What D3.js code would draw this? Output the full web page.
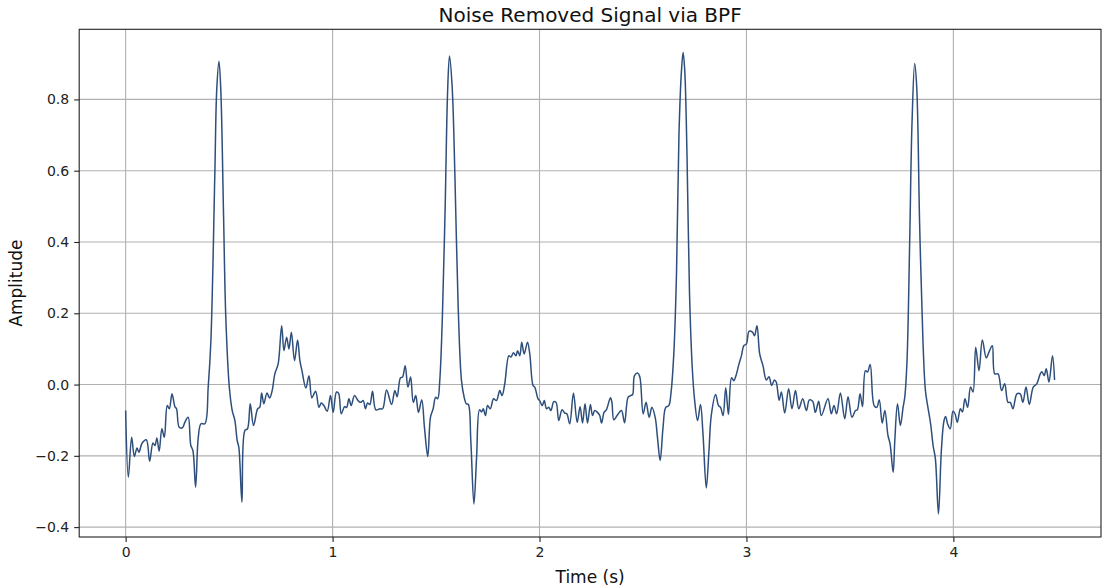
<!DOCTYPE html>
<html>
<head>
<meta charset="utf-8">
<script src="https://cdn.jsdelivr.net/npm/d3@7"></script>
<style>
	body { margin: 0; background: #fff; }
	svg { display: block; font-family: "DejaVu Sans", sans-serif; }
</style>
</head>
<body>
<div id="chart"></div>
<script>

// ---DATA---//

// time stamps (s)
var time = [
	0.000, 0.013, 0.029, 0.042, 0.055, 0.064, 0.080, 0.100, 0.116, 0.132,
	0.142, 0.151, 0.162, 0.175, 0.187, 0.201, 0.211, 0.224, 0.238, 0.246,
	0.259, 0.275, 0.286, 0.302, 0.315, 0.325, 0.338, 0.351, 0.364, 0.383,
	0.399, 0.412, 0.431, 0.440, 0.451, 0.460, 0.473, 0.484, 0.501, 0.515,
	0.528, 0.539, 0.547, 0.562, 0.576, 0.589, 0.602, 0.618, 0.638, 0.648,
	0.657, 0.668, 0.683, 0.696, 0.708, 0.721, 0.737, 0.754, 0.765, 0.778,
	0.789, 0.801, 0.816, 0.831, 0.842, 0.852, 0.871, 0.886, 0.900, 0.918,
	0.934, 0.945, 0.958, 0.974, 0.990, 1.003, 1.019, 1.029, 1.042, 1.058,
	1.068, 1.079, 1.090, 1.106, 1.123, 1.135, 1.148, 1.159, 1.169, 1.180,
	1.193, 1.209, 1.229, 1.242, 1.261, 1.285, 1.301, 1.312, 1.328, 1.338,
	1.351, 1.364, 1.377, 1.390, 1.402, 1.415, 1.431, 1.444, 1.460, 1.473,
	1.486, 1.498, 1.508, 1.518, 1.531, 1.544, 1.556, 1.565, 1.578, 1.591,
	1.607, 1.623, 1.636, 1.646, 1.656, 1.668, 1.683, 1.696, 1.710, 1.720,
	1.728, 1.739, 1.749, 1.762, 1.778, 1.792, 1.808, 1.819, 1.832, 1.852,
	1.862, 1.874, 1.886, 1.894, 1.905, 1.914, 1.926, 1.942, 1.953, 1.969,
	1.977, 1.993, 2.001, 2.013, 2.023, 2.034, 2.045, 2.055, 2.069, 2.080,
	2.093, 2.109, 2.122, 2.132, 2.146, 2.164, 2.182, 2.196, 2.208, 2.220,
	2.232, 2.246, 2.256, 2.267, 2.280, 2.291, 2.300, 2.312, 2.323, 2.343,
	2.350, 2.359, 2.375, 2.396, 2.411, 2.428, 2.440, 2.450, 2.459, 2.475,
	2.485, 2.501, 2.515, 2.530, 2.543, 2.559, 2.570, 2.583, 2.597, 2.610,
	2.625, 2.635, 2.649, 2.662, 2.674, 2.686, 2.694, 2.702, 2.713, 2.725,
	2.738, 2.749, 2.764, 2.778, 2.790, 2.806, 2.819, 2.830, 2.851, 2.865,
	2.875, 2.887, 2.900, 2.913, 2.928, 2.939, 2.952, 2.964, 2.976, 2.987,
	3.000, 3.013, 3.029, 3.039, 3.051, 3.064, 3.080, 3.096, 3.109, 3.122,
	3.135, 3.144, 3.158, 3.169, 3.185, 3.204, 3.220, 3.237, 3.253, 3.272,
	3.290, 3.304, 3.320, 3.333, 3.349, 3.362, 3.394, 3.410, 3.423, 3.436,
	3.454, 3.475, 3.491, 3.510, 3.527, 3.536, 3.549, 3.561, 3.575, 3.585,
	3.598, 3.617, 3.630, 3.642, 3.656, 3.669, 3.684, 3.694, 3.709, 3.717,
	3.730, 3.744, 3.757, 3.765, 3.776, 3.789, 3.800, 3.813, 3.823, 3.837,
	3.853, 3.865, 3.877, 3.890, 3.902, 3.913, 3.928, 3.942, 3.955, 3.963,
	3.972, 3.985, 3.998, 4.008, 4.019, 4.034, 4.044, 4.056, 4.069, 4.083,
	4.095, 4.108, 4.124, 4.140, 4.159, 4.172, 4.188, 4.200, 4.216, 4.233,
	4.248, 4.264, 4.275, 4.288, 4.307, 4.323, 4.336, 4.351, 4.367, 4.386,
	4.403, 4.420, 4.428, 4.439, 4.449, 4.462, 4.479, 4.489
];

// filtered amplitude at each time stamp
var amplitude = [
	-0.073, -0.260, -0.148, -0.202, -0.178, -0.190, -0.164, -0.155, -0.215, -0.164,
	-0.171, -0.150, -0.187, -0.124, -0.148, -0.059, -0.068, -0.026, -0.062, -0.068,
	-0.120, -0.121, -0.106, -0.092, -0.171, -0.185, -0.288, -0.148, -0.110, -0.110,
	-0.007, 0.123, 0.591, 0.824, 0.907, 0.824, 0.479, 0.189, -0.007, -0.073,
	-0.101, -0.157, -0.176, -0.330, -0.129, -0.124, -0.054, -0.115, -0.068, -0.064,
	-0.024, -0.054, -0.024, -0.038, -0.017, 0.030, 0.058, 0.165, 0.095, 0.133,
	0.100, 0.147, 0.067, 0.125, 0.067, 0.039, -0.010, 0.025, -0.037, -0.019,
	-0.064, -0.052, -0.059, -0.075, -0.031, -0.078, -0.021, -0.024, -0.082, -0.062,
	-0.064, -0.040, -0.059, -0.031, -0.045, -0.050, -0.045, -0.068, -0.052, -0.056,
	-0.019, -0.071, -0.068, -0.068, -0.015, -0.056, -0.017, -0.034, 0.019, 0.021,
	0.053, -0.007, 0.021, -0.050, -0.031, -0.078, -0.043, -0.120, -0.202, -0.092,
	-0.068, -0.036, -0.040, 0.011, 0.198, 0.497, 0.824, 0.922, 0.834, 0.591,
	0.217, 0.011, -0.036, -0.054, -0.056, -0.157, -0.335, -0.204, -0.071, -0.077,
	-0.068, -0.087, -0.059, -0.068, -0.040, -0.045, -0.017, -0.031, 0.002, 0.081,
	0.077, 0.089, 0.081, 0.095, 0.081, 0.119, 0.086, 0.119, 0.086, -0.003,
	-0.007, -0.040, -0.045, -0.059, -0.045, -0.068, -0.064, -0.073, -0.048, -0.050,
	-0.101, -0.071, -0.080, -0.082, -0.110, -0.024, -0.106, -0.062, -0.108, -0.054,
	-0.108, -0.056, -0.087, -0.073, -0.078, -0.087, -0.108, -0.078, -0.071, -0.037,
	-0.050, -0.099, -0.087, -0.073, -0.107, -0.036, -0.031, -0.028, 0.025, 0.032,
	0.021, -0.082, -0.050, -0.092, -0.064, -0.092, -0.148, -0.213, -0.120, -0.064,
	-0.059, -0.026, 0.086, 0.310, 0.703, 0.880, 0.932, 0.880, 0.637, 0.254,
	0.049, -0.040, -0.101, -0.056, -0.138, -0.290, -0.185, -0.087, -0.028, -0.059,
	-0.064, -0.087, -0.009, -0.084, 0.019, 0.011, 0.030, 0.058, 0.081, 0.109,
	0.114, 0.150, 0.147, 0.137, 0.165, 0.086, 0.053, 0.013, 0.022, -0.003,
	0.013, 0.007, -0.044, -0.021, -0.080, -0.012, -0.068, -0.017, -0.068, -0.040,
	-0.073, -0.043, -0.047, -0.078, -0.047, -0.087, -0.040, -0.082, -0.059, -0.082,
	-0.024, -0.096, -0.034, -0.092, -0.073, -0.071, -0.026, -0.062, 0.039, 0.035,
	0.056, -0.059, -0.064, -0.043, -0.108, -0.073, -0.143, -0.166, -0.246, -0.157,
	-0.054, -0.115, -0.064, -0.036, 0.067, 0.404, 0.731, 0.901, 0.834, 0.450,
	0.123, -0.017, -0.064, -0.110, -0.171, -0.208, -0.363, -0.185, -0.101, -0.090,
	-0.110, -0.124, -0.075, -0.082, -0.106, -0.068, -0.077, -0.040, -0.064, -0.007,
	-0.021, 0.105, 0.039, 0.125, 0.075, 0.091, 0.109, 0.030, 0.030, -0.017,
	0.002, -0.050, -0.050, -0.068, -0.026, -0.026, -0.050, -0.007, -0.056, -0.007,
	0.002, 0.030, 0.036, 0.025, 0.044, 0.007, 0.081, 0.013
];

var xTicks = [0, 1, 2, 3, 4];
var yTicks = [-0.4, -0.2, 0.0, 0.2, 0.4, 0.6, 0.8];

var titleText = "Noise Removed Signal via BPF";
var xLabelText = "Time (s)";
var yLabelText = "Amplitude";

// ---LAYOUT---//

var width = 1102;
var height = 587;

var margin = {
	left : 79.2,
	right : 1,
	top : 29.3,
	bottom : 50
};

var plotWidth = width - margin.left - margin.right;
var plotHeight = height - margin.top - margin.bottom;

var lineColor = "#2e4f7c";
var gridColor = "#b0b0b0";
var axisColor = "#222";

// ---SCALES---//

// matplotlib style 5% padding around the data range
function padded(extent) {
	var pad = (extent[1] - extent[0]) * 0.05;
	return [ extent[0] - pad, extent[1] + pad ];
}// END: padded

var xScale = d3.scaleLinear().domain(padded(d3.extent(time))).range(
		[ 0, plotWidth ]);
var yScale = d3.scaleLinear().domain(padded(d3.extent(amplitude))).range(
		[ plotHeight, 0 ]);

var formatY = function(d) {
	return d3.format(".1f")(d).replace("-", "\u2212");
};

// ---DRAW---//

var svg = d3.select("#chart").append("svg") //
.attr("width", width) //
.attr("height", height);

var g = svg.append("g") //
.attr("transform", "translate(" + margin.left + "," + margin.top + ")");

// grid
g.append("g").attr("class", "grid") //
.selectAll("line.xgrid").data(xTicks).enter().append("line") //
.attr("x1", function(d) { return xScale(d); }) //
.attr("x2", function(d) { return xScale(d); }) //
.attr("y1", 0) //
.attr("y2", plotHeight) //
.attr("stroke", gridColor) //
.attr("stroke-width", 1.1);

g.append("g").attr("class", "grid") //
.selectAll("line.ygrid").data(yTicks).enter().append("line") //
.attr("x1", 0) //
.attr("x2", plotWidth) //
.attr("y1", function(d) { return yScale(d); }) //
.attr("y2", function(d) { return yScale(d); }) //
.attr("stroke", gridColor) //
.attr("stroke-width", 1.1);

// signal
var line = d3.line() //
.x(function(d) { return xScale(d[0]); }) //
.y(function(d) { return yScale(d[1]); }) //
.curve(d3.curveCatmullRom.alpha(0.5));

g.append("path") //
.datum(d3.zip(time, amplitude)) //
.attr("fill", "none") //
.attr("stroke", lineColor) //
.attr("stroke-width", 1.5) //
.attr("stroke-linejoin", "round") //
.attr("d", line);

// axes
var xAxis = g.append("g") //
.attr("transform", "translate(0," + plotHeight + ")") //
.call(d3.axisBottom(xScale).tickValues(xTicks).tickFormat(d3.format("d"))
		.tickSizeInner(5).tickSizeOuter(0).tickPadding(5));

var yAxis = g.append("g") //
.call(d3.axisLeft(yScale).tickValues(yTicks).tickFormat(formatY)
		.tickSizeInner(5).tickSizeOuter(0).tickPadding(5));

[ xAxis, yAxis ].forEach(function(axis) {
	axis.select(".domain").remove();
	axis.selectAll("line").attr("stroke", axisColor).attr("stroke-width", 1.1);
	axis.selectAll("text") //
	.attr("fill", "#222") //
	.style("font-family", "DejaVu Sans, sans-serif") //
	.style("font-size", "14px");
});

// frame
g.append("rect") //
.attr("x", 0) //
.attr("y", 0) //
.attr("width", plotWidth) //
.attr("height", plotHeight) //
.attr("fill", "none") //
.attr("stroke", axisColor) //
.attr("stroke-width", 1.1);

// labels
svg.append("text") //
.attr("x", margin.left + plotWidth / 2) //
.attr("y", 22) //
.attr("text-anchor", "middle") //
.style("font-size", "20px") //
.attr("fill", "#111") //
.text(titleText);

svg.append("text") //
.attr("x", margin.left + plotWidth / 2) //
.attr("y", 583) //
.attr("text-anchor", "middle") //
.style("font-size", "17px") //
.attr("fill", "#111") //
.text(xLabelText);

svg.append("text") //
.attr("transform", "translate(21.5," + (margin.top + plotHeight / 2) + ") rotate(-90)") //
.attr("text-anchor", "middle") //
.style("font-size", "17px") //
.attr("fill", "#111") //
.text(yLabelText);

</script>
</body>
</html>
